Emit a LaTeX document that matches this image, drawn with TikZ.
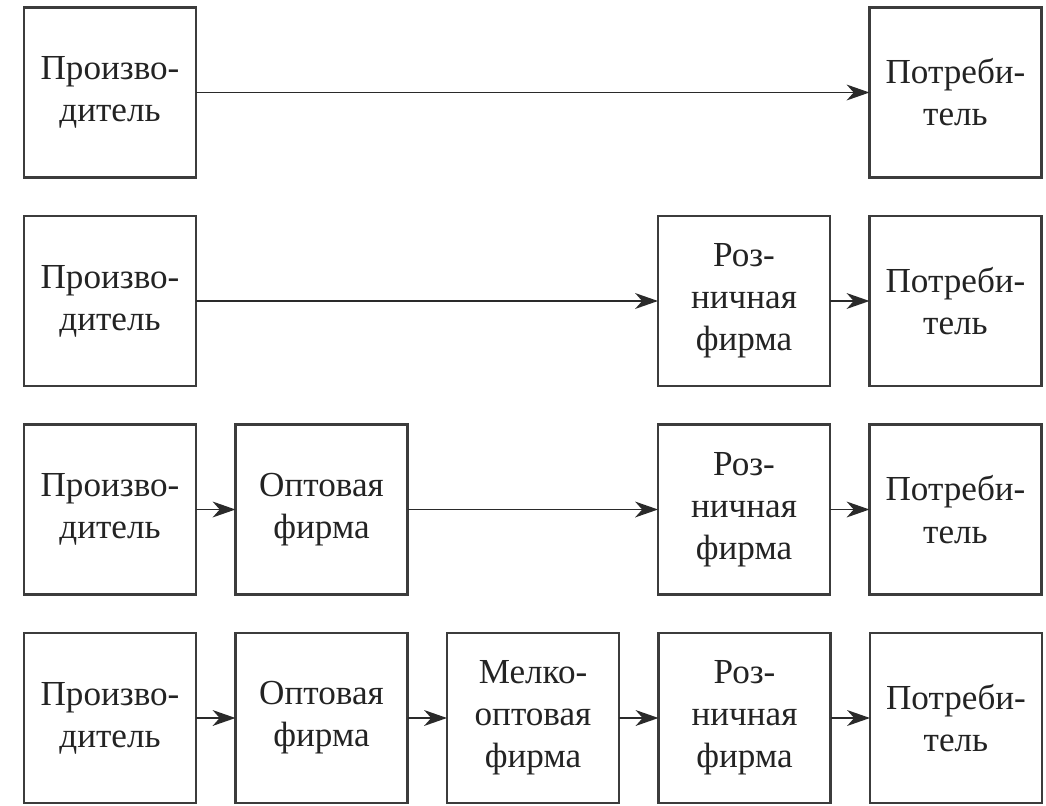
\documentclass[tikz,border=0pt]{standalone}
\usepackage{fontspec}
\setmainfont{Liberation Serif}
\usetikzlibrary{arrows.meta, positioning}

\definecolor{linecolor}{RGB}{60,60,60}
\definecolor{textcolor}{RGB}{35,35,35}

\begin{document}
\begin{tikzpicture}[
    box/.style={draw=linecolor, line width=1.3pt, outer sep=0pt, minimum width=3.44cm, minimum height=3.4cm,
      align=center, text=textcolor, font=\fontsize{20}{24}\selectfont},
    link/.style={draw=linecolor!70!black, line width=1.1pt, -{Stealth[length=13pt, width=9pt, inset=4pt]}},
    node distance=0.77cm and 0.79cm]
    \useasboundingbox (0,0) rectangle (20.92,-16.10);

    % first row: direct channel
    \node[box] (prod1) at (2.2,-1.85) {Произво-\\дитель};
    \node[box] (cons1) at (19.11,-1.85) {Потреби-\\тель};
    \draw[link] (prod1) -- (cons1);

    % second row: one level
    \node[box, below=of prod1] (prod2) {Произво-\\дитель};
    \node[box, below=of cons1] (cons2) {Потреби-\\тель};
    \node[box, left=of cons2] (ret2) {Роз-\\ничная\\фирма};
    \draw[link] (prod2) -- (ret2);
    \draw[link] (ret2) -- (cons2);

    % third row: two levels
    \node[box, below=of prod2] (prod3) {Произво-\\дитель};
    \node[box, right=of prod3] (whole3) {Оптовая\\фирма};
    \node[box, below=of cons2] (cons3) {Потреби-\\тель};
    \node[box, left=of cons3] (ret3) {Роз-\\ничная\\фирма};
    \draw[link] (prod3) -- (whole3);
    \draw[link] (whole3) -- (ret3);
    \draw[link] (ret3) -- (cons3);

    % fourth row: three levels
    \node[box, below=of prod3] (prod4) {Произво-\\дитель};
    \node[box, right=of prod4] (whole4) {Оптовая\\фирма};
    \node[box, right=of whole4] (small4) {Мелко-\\оптовая\\фирма};
    \node[box, right=of small4] (ret4) {Роз-\\ничная\\фирма};
    \node[box, right=of ret4] (cons4) {Потреби-\\тель};
    \draw[link] (prod4) -- (whole4);
    \draw[link] (whole4) -- (small4);
    \draw[link] (small4) -- (ret4);
    \draw[link] (ret4) -- (cons4);
\end{tikzpicture}
\end{document}
